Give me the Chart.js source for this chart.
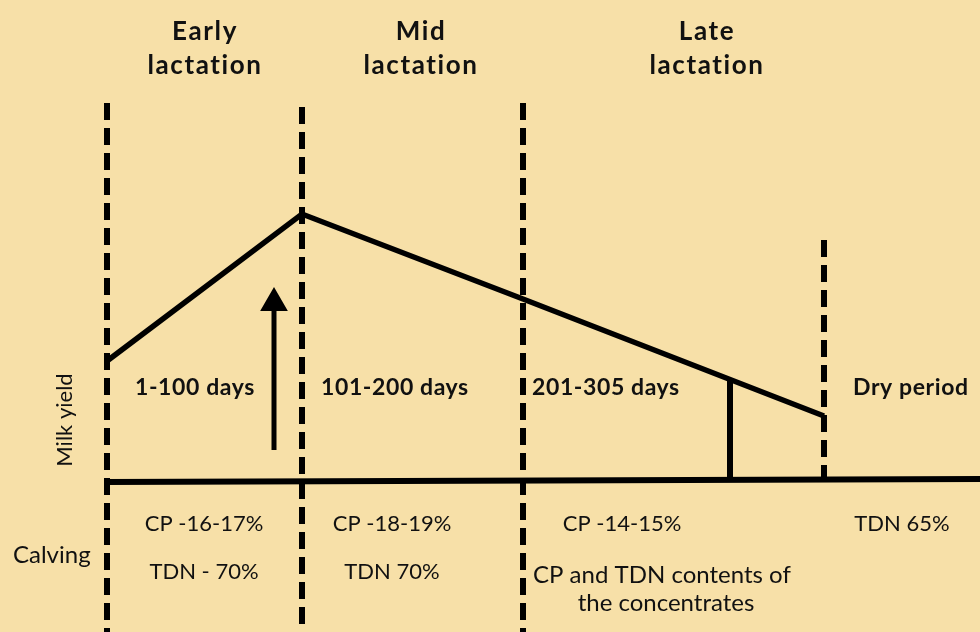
<!DOCTYPE html>
<html>
<head>
<meta charset="utf-8">
<script src="https://cdn.jsdelivr.net/npm/chart.js@4"></script>
<style>
  html, body { margin: 0; padding: 0; background: #f7e0a8; }
  canvas { display: block; }
</style>
</head>
<body>
<canvas id="lactation" width="980" height="632"></canvas>
<script>
// positions along the lactation axis (diagram units) and milk yield levels
const stageX = [107, 302, 523, 824];
const curveX = [107, 302, 523, 824];
const curveY = [120, 267, 182, 65];
const baseX = [107, 980];
const baseY = [-1, 2];
const stageTop = [378, 374, 378, 241];
const stageBottom = [-151, -151, -151, -4];
const markerX = [730, 730];
const markerY = [0, 101];
const arrowX = [274, 274];
const arrowY = [31, 178];

const stageTitles = [["Early", "lactation"], ["Mid", "lactation"], ["Late", "lactation"]];
const stageDays = ["1-100 days", "101-200 days", "201-305 days", "Dry period"];

const pts = (xs, ys) => xs.map((x, i) => ({ x: x, y: ys[i] }));

const black = "#000000";
const datasets = [
  { data: pts(curveX, curveY), borderWidth: 5.5 },
  { data: pts(baseX, baseY), borderWidth: 6 },
  { data: pts(markerX, markerY), borderWidth: 6 },
  { data: pts(arrowX, arrowY), borderWidth: 5 }
];
stageX.forEach((x, i) => {
  datasets.push({
    data: pts([x, x], [stageTop[i], stageBottom[i]]),
    borderWidth: 6,
    borderDash: [17, 8]
  });
});
datasets.forEach(d => {
  d.showLine = true;
  d.borderColor = black;
  d.backgroundColor = black;
  d.pointRadius = 0;
  d.borderCapStyle = "butt";
  d.borderJoinStyle = "miter";
  d.tension = 0;
});
// arrow head
datasets[3].pointRadius = [0, 14];
datasets[3].pointStyle = "triangle";
datasets[3].pointBorderWidth = 2;

const labels = {
  id: "labels",
  afterDatasetsDraw(chart) {
    const ctx = chart.ctx;
    const ys = chart.scales.y;
    const py = v => ys.getPixelForValue(v);
    ctx.save();
    ctx.fillStyle = "#111";
    ctx.textBaseline = "middle";

    ctx.textAlign = "center";
    ctx.font = "bold 26px Lato";
    ctx.letterSpacing = "1.6px";
    const titleX = [205, 421, 707];
    stageTitles.forEach((t, i) => {
      ctx.fillText(t[0], titleX[i], 32);
      ctx.fillText(t[1], titleX[i], 66);
    });

    ctx.textAlign = "left";
    ctx.font = "bold 23px Lato";
    ctx.letterSpacing = "0.6px";
    const dayX = [135, 321, 532, 853];
    stageDays.forEach((t, i) => ctx.fillText(t, dayX[i], py(93)));

    ctx.letterSpacing = "0px";
    ctx.font = "22px Lato";
    ctx.textAlign = "center";
    ctx.fillText("CP -16-17%", 204, 524);
    ctx.fillText("TDN - 70%", 204, 572);
    ctx.fillText("CP -18-19%", 392, 524);
    ctx.fillText("TDN 70%", 392, 572);
    ctx.fillText("CP -14-15%", 622, 524);
    ctx.fillText("TDN 65%", 902, 524);
    ctx.font = "24px Lato";
    ctx.textAlign = "left";
    ctx.fillText("CP and TDN contents of", 533, 575);
    ctx.textAlign = "center";
    ctx.fillText("the concentrates", 666, 603);

    ctx.textAlign = "left";
    ctx.fillText("Calving", 13, 555);

    ctx.save();
    ctx.translate(65, 420);
    ctx.rotate(-Math.PI / 2);
    ctx.textAlign = "center";
    ctx.font = "22px Lato";
    ctx.fillText("Milk yield", 0, 0);
    ctx.restore();

    ctx.restore();
  }
};

new Chart(document.getElementById("lactation"), {
  type: "scatter",
  data: { datasets: datasets },
  options: {
    responsive: false,
    animation: false,
    layout: { padding: 0, autoPadding: false },
    plugins: { legend: { display: false }, tooltip: { enabled: false } },
    scales: {
      x: { type: "linear", min: 0, max: 980, display: false },
      y: { type: "linear", min: -151, max: 481, display: false }
    }
  },
  plugins: [labels]
});
</script>
</body>
</html>
